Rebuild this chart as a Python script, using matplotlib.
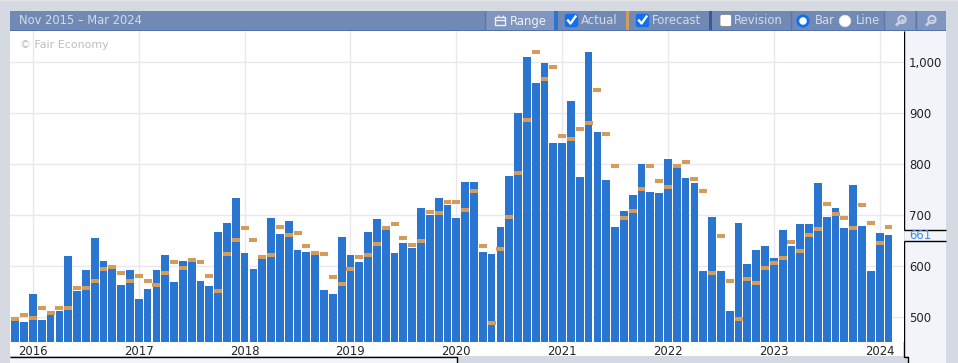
import matplotlib
matplotlib.use("Agg")
import matplotlib.pyplot as plt
from matplotlib.patches import Rectangle, Circle, FancyBboxPatch
from matplotlib.transforms import offset_copy
import numpy as np

# Datos mensuales, Nov 2015 - Feb 2024
actual = [493, 491, 546, 495, 505, 513, 620, 552, 593, 656,
          610, 595, 564, 593, 536, 556, 593, 622, 569, 610,
          608, 571, 562, 667, 685, 734, 626, 595, 614, 695,
          663, 689, 632, 628, 622, 554, 546, 657, 622, 608,
          667, 693, 671, 626, 646, 636, 714, 700, 734, 720,
          695, 766, 766, 628, 624, 677, 777, 900, 1010, 958,
          998, 841, 841, 923, 775, 1020, 863, 769, 677, 708,
          740, 800, 746, 744, 810, 793, 773, 763, 591, 696,
          591, 513, 685, 605, 632, 640, 616, 671, 640, 683,
          683, 763, 696, 714, 675, 759, 679, 591, 665, 661]
forecast = [497, 505, 499, 519, 509, 519, 519, 558, 558, 571,
            595, 599, 587, 571, 581, 571, 564, 587, 608, 597,
            612, 608, 581, 552, 624, 652, 675, 652, 618, 622,
            677, 661, 665, 640, 626, 624, 579, 566, 595, 618,
            622, 644, 675, 683, 656, 642, 650, 706, 704, 726,
            726, 710, 748, 640, 489, 634, 697, 783, 886, 1020,
            966, 990, 855, 849, 869, 880, 945, 859, 796, 695,
            708, 751, 796, 767, 755, 796, 804, 771, 747, 587,
            660, 571, 497, 575, 567, 597, 606, 616, 648, 630,
            661, 673, 722, 702, 695, 675, 720, 685, 646, 677]
year_labels = ["2016", "2017", "2018", "2019", "2020", "2021", "2022", "2023", "2024"]
year_pos = [2, 14, 26, 38, 50, 62, 74, 86, 98]
y_ticks = [500, 600, 700, 800, 900, 1000]
y_labels = ["500", "600", "700", "800", "900", "1,000"]
last_value = 661

W, H = 958, 363
PAGE = "#d5d9e2"
PANEL = "#f3f4fa"
HEADER = "#7189b5"
HEADER_LIGHT = "#8096bf"
TXT = "#d5dae6"
plt.rcParams["font.family"] = "DejaVu Sans"

fig = plt.figure(figsize=(W / 100, H / 100), dpi=100, facecolor=PAGE)

# Marco de la pagina, en pixeles
bg = fig.add_axes([0, 0, 1, 1], zorder=0)
bg.set_xlim(0, W)
bg.set_ylim(H, 0)
bg.axis("off")


def rect(x0, y0, x1, y1, color, z=1):
    bg.add_patch(Rectangle((x0, y0), x1 - x0, y1 - y0, fc=color, ec="none", zorder=z))


def line(xs, ys, color="black", lw=1.0, z=3):
    bg.plot(xs, ys, color=color, lw=lw, zorder=z, solid_capstyle="butt")


rect(0, 0, W, 1, "#e4e4e4")
rect(10, 31, 904, 356, "white")
rect(10, 357, 457, H, PANEL)
rect(905, 31, 946, 356, PANEL)
rect(909, 356, 946, H, PANEL)
line([10, 457.5, 457.5], [356.5, 356.5, H])
line([904.5, 904.5], [31, 229.5])
line([904.5, 946], [229.5, 229.5])
line([904.5, 946], [240.5, 240.5])
line([904.5, 904.5, 908.5, 908.5], [240.5, 356.5, 356.5, H])

# Barra de arriba
rect(10, 11, 946, 30, HEADER)
rect(10, 30, 946, 31, "#4f72ae")
bg.text(19, 21, "Nov 2015 – Mar 2024", color=TXT, fontsize=8.3, va="center", ha="left")
rect(486, 11, 554, 30, HEADER_LIGHT)
rect(885, 11, 915.5, 30, HEADER_LIGHT)
rect(916.5, 11, 946, 30, HEADER_LIGHT)
for xd in [485, 791, 884, 916]:
    line([xd + 0.5, xd + 0.5], [11, 30], color="#5a76aa")
rect(554, 11, 558, 30, "#2a75cf")
rect(626, 11, 629, 30, "#d59b5b")
rect(709, 11, 712, 30, "#3a5a96")

# icono de Range
bg.add_patch(Rectangle((495.5, 17), 10, 8, fc="none", ec="#eef0f6", lw=1, zorder=3))
line([495.5, 505.5], [20, 20], color="#eef0f6")
line([498, 498], [15, 17], color="#eef0f6")
line([503, 503], [15, 17], color="#eef0f6")
bg.text(510, 21, "Range", color="#eef0f6", fontsize=8.4, va="center", ha="left")

for x0, label in [(565, "Actual"), (636, "Forecast")]:
    bg.add_patch(FancyBboxPatch((x0 + 0.5, 14.5), 12, 12, boxstyle="round,pad=0,rounding_size=2",
                                fc="#1070f0", ec="#1070f0", lw=1, zorder=3))
    bg.plot([x0 + 3, x0 + 5.5, x0 + 10.5], [20.5, 23.5, 16.5], color="white", lw=1.7, zorder=4)
    bg.text(x0 + 15.5, 21, label, color=TXT, fontsize=8.4, va="center", ha="left")

bg.add_patch(FancyBboxPatch((720, 14.5), 11.5, 12, boxstyle="round,pad=0,rounding_size=2",
                            fc="white", ec="#888888", lw=0.6, zorder=3))
bg.text(734, 21, "Revision", color=TXT, fontsize=8.4, va="center", ha="left")

bg.add_patch(Circle((803, 21), 5.2, fc="white", ec="#1070f0", lw=2, zorder=3))
bg.text(815, 21, "Bar", color=TXT, fontsize=8.4, va="center", ha="left")
bg.add_patch(Circle((845, 21), 5.8, fc="white", ec="#dfe3ec", lw=0.5, zorder=3))
bg.text(856, 21, "Line", color=TXT, fontsize=8.4, va="center", ha="left")

# lupas
for cx, plus in [(902, True), (932, False)]:
    bg.add_patch(Circle((cx, 19.5), 3.6, fc="none", ec="#c9d2e4", lw=1.5, zorder=3))
    line([cx - 2.6, cx - 6], [22.2, 25.5], color="#c9d2e4", lw=2)
    line([cx - 2, cx + 2], [19.5, 19.5], color="#c9d2e4", lw=1)
    if plus:
        line([cx, cx], [17.5, 21.5], color="#c9d2e4", lw=1)

# Grafico principal
ax = fig.add_axes([10 / W, 1 - 342 / H, 894 / W, 311 / H], zorder=1)
x = np.arange(len(actual))
ax.bar(x, actual, width=0.88, color="#2975cf", zorder=2)
ax.hlines(forecast, x - 0.45, x + 0.45, color="#d59b5b", lw=2.9, zorder=3)

ax.set_xlim(-0.6, 100.76)
ax.set_ylim(452, 1060.6)
ax.set_xticks(year_pos, year_labels)
ax.set_yticks(y_ticks, y_labels)
ax.yaxis.tick_right()
ax.tick_params(axis="x", length=0, pad=2.5, labelsize=8.4, labelcolor="#222222")
ax.tick_params(axis="y", length=0, pad=3.6, labelsize=8.4, labelcolor="#222222")
ax.grid(True, color="#e8e8f1", lw=1, zorder=1)
ax.set_axisbelow(True)
for s in ax.spines.values():
    s.set_visible(False)

# el ultimo valor va en azul junto al eje
label_tr = offset_copy(ax.get_yaxis_transform(), fig=fig, x=3.6, y=0, units="points")
ax.text(1, last_value, str(last_value), transform=label_tr, color="#3b8be8",
        fontsize=8.4, va="center", ha="left", clip_on=False)
ax.text(10 / 894, 0.955, "© Fair Economy", transform=ax.transAxes, color="#bdbdbd",
        fontsize=7.9, va="center", ha="left")

fig.savefig("out.png", dpi=100, facecolor=PAGE)
